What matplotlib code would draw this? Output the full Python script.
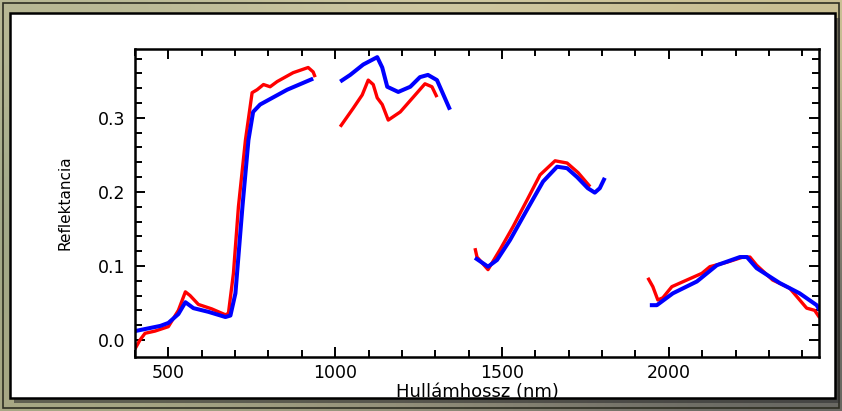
import numpy as np
import matplotlib.pyplot as plt
from matplotlib.patches import Rectangle

plt.rcParams['font.family'] = ['DejaVu Sans']

# Spectra, split into the four measured windows (water absorption bands removed)
blue_wl_1 = [400, 476, 500, 530, 551, 575, 620, 671, 686, 701, 722, 740, 754, 775, 856, 934]
blue_r_1 = [0.012, 0.019, 0.023, 0.035, 0.051, 0.043, 0.038, 0.031, 0.033, 0.063, 0.18, 0.27, 0.308, 0.318, 0.338, 0.353]
red_wl_1 = [400, 415, 430, 460, 500, 530, 551, 565, 590, 630, 671, 680, 695, 710, 731, 751, 766, 785, 805, 826, 874, 919, 934, 940]
red_r_1 = [-0.012, 0.0, 0.009, 0.012, 0.018, 0.04, 0.065, 0.06, 0.048, 0.042, 0.034, 0.036, 0.09, 0.18, 0.27, 0.334, 0.338, 0.345, 0.342, 0.349, 0.361, 0.368, 0.362, 0.355]

blue_wl_2 = [1015, 1045, 1084, 1126, 1141, 1156, 1189, 1225, 1254, 1278, 1305, 1344]
blue_r_2 = [0.349, 0.358, 0.372, 0.382, 0.368, 0.342, 0.335, 0.342, 0.355, 0.358, 0.351, 0.311]
red_wl_2 = [1015, 1054, 1081, 1099, 1114, 1126, 1141, 1159, 1195, 1234, 1269, 1290, 1305]
red_r_2 = [0.288, 0.313, 0.331, 0.351, 0.345, 0.327, 0.318, 0.297, 0.308, 0.328, 0.346, 0.342, 0.328]

blue_wl_3 = [1419, 1458, 1485, 1524, 1575, 1623, 1665, 1695, 1725, 1757, 1778, 1793, 1808]
blue_r_3 = [0.111, 0.099, 0.108, 0.135, 0.176, 0.214, 0.234, 0.232, 0.22, 0.205, 0.199, 0.205, 0.219]
red_wl_3 = [1419, 1425, 1458, 1494, 1533, 1575, 1614, 1659, 1695, 1728, 1764]
red_r_3 = [0.124, 0.112, 0.095, 0.122, 0.153, 0.189, 0.223, 0.242, 0.239, 0.226, 0.207]

blue_wl_4 = [1943, 1964, 2012, 2084, 2144, 2213, 2234, 2263, 2332, 2392, 2443, 2452]
blue_r_4 = [0.047, 0.047, 0.063, 0.079, 0.101, 0.112, 0.112, 0.097, 0.077, 0.063, 0.047, 0.040]
red_wl_4 = [1937, 1952, 1967, 1982, 2009, 2054, 2099, 2123, 2174, 2222, 2243, 2263, 2311, 2362, 2413, 2437, 2452]
red_r_4 = [0.084, 0.072, 0.054, 0.057, 0.072, 0.081, 0.09, 0.099, 0.105, 0.112, 0.112, 0.101, 0.081, 0.07, 0.043, 0.04, 0.03]

red_segments = [(red_wl_1, red_r_1), (red_wl_2, red_r_2), (red_wl_3, red_r_3), (red_wl_4, red_r_4)]
blue_segments = [(blue_wl_1, blue_r_1), (blue_wl_2, blue_r_2), (blue_wl_3, blue_r_3), (blue_wl_4, blue_r_4)]

fig = plt.figure(figsize=(8.42, 4.11), dpi=100)

# textured-looking backdrop behind the white panel
bg = fig.add_axes([0, 0, 1, 1], zorder=-10)
bg_colors = np.array([
    [[0.72, 0.72, 0.58], [0.84, 0.81, 0.66], [0.80, 0.76, 0.58]],
    [[0.62, 0.66, 0.54], [0.70, 0.68, 0.56], [0.52, 0.50, 0.44]],
    [[0.66, 0.66, 0.52], [0.58, 0.56, 0.48], [0.40, 0.40, 0.38]],
])
bg.imshow(bg_colors, aspect='auto', interpolation='bicubic', extent=[0, 1, 0, 1])
bg.set_xlim(0, 1)
bg.set_ylim(0, 1)
bg.axis('off')

W, H = 842, 411
fig.add_artist(Rectangle((3 / W, 3 / H), 1 - 6 / W, 1 - 6 / H, transform=fig.transFigure,
                         fill=False, edgecolor='#2e2e22', linewidth=1.2, zorder=-5))
fig.add_artist(Rectangle((14 / W, 8 / H), 826 / W, 385 / H, transform=fig.transFigure,
                         facecolor='#303030', alpha=0.6, edgecolor='none', zorder=-5))
fig.add_artist(Rectangle((10 / W, 13 / H), 825 / W, 385 / H, transform=fig.transFigure,
                         facecolor='white', edgecolor='black', linewidth=1.8, zorder=-4))

ax = fig.add_axes([135 / W, 1 - 357 / H, 684 / W, 308 / H], zorder=1)
ax.set_facecolor('white')

for wl, r in red_segments:
    ax.plot(wl, r, color='#ff0000', linewidth=2.4, solid_capstyle='butt')
for wl, r in blue_segments:
    ax.plot(wl, r, color='#0000ff', linewidth=2.9, solid_capstyle='butt')

ax.set_xlim(400, 2450)
ax.set_ylim(-0.023, 0.393)
ax.set_xticks([500, 1000, 1500, 2000])
ax.set_xticks(np.arange(400, 2451, 100), minor=True)
ax.set_yticks([0.0, 0.1, 0.2, 0.3])
ax.set_yticks(np.arange(0.0, 0.39, 0.02), minor=True)
ax.set_yticklabels(['0.0', '0.1', '0.2', '0.3'])
ax.tick_params(which='both', direction='in', top=True, right=True, width=1.4, labelsize=12.5)
ax.tick_params(which='major', length=7)
ax.tick_params(axis='x', which='major', pad=5)
ax.tick_params(axis='y', which='major', pad=7)
ax.tick_params(which='minor', length=5)
for s in ax.spines.values():
    s.set_linewidth(1.8)

ax.set_xlabel('Hullámhossz (nm)', fontsize=13, labelpad=1)
ax.set_ylabel('Reflektancia', fontsize=11, labelpad=18)

fig.savefig('out.png', dpi=100)
